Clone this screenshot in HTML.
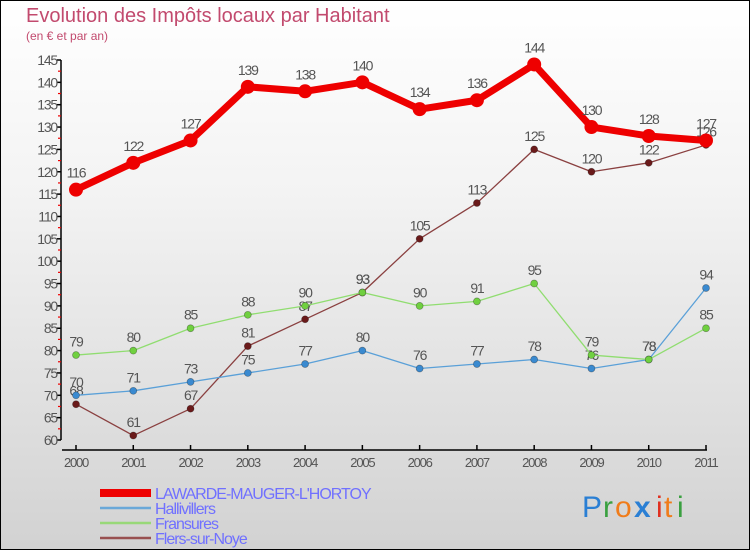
<!DOCTYPE html>
<html><head><meta charset="utf-8">
<style>
html,body{margin:0;padding:0;}
body{width:750px;height:550px;overflow:hidden;font-family:"Liberation Sans",sans-serif;}
#frame{position:absolute;left:0;top:0;width:748px;height:548px;border:1px solid #000;background:linear-gradient(#ffffff 0%,#f3f3f3 35%,#d2d2d2 100%);}
</style></head>
<body>
<div id="frame">
<svg id="chart" width="750" height="550" style="position:absolute;left:-1px;top:-1px">
<text x="26" y="22" font-size="20" fill="#c24a6e">Evolution des Impôts locaux par Habitant</text>
<text x="26" y="40" font-size="12" fill="#c24a6e">(en € et par an)</text>
<g id="axes"></g>
<g id="series"></g>
<g id="legend"></g>
<g font-size="30" font-family="Liberation Sans, sans-serif">
<text x="582" y="517" fill="#2a7fd4">P</text><text x="603" y="517" fill="#3aa040">r</text><text x="615" y="517" fill="#f07c1a">o</text><text x="634" y="517" fill="#2a7fd4" font-weight="bold">x</text><text x="656" y="517" fill="#e03020">i</text><text x="664" y="517" fill="#f07c1a">t</text><text x="677" y="517" fill="#3aa040">i</text>
</g>
</svg>
</div>
<script>
const years = [2000,2001,2002,2003,2004,2005,2006,2007,2008,2009,2010,2011];
const yTicks = [60,65,70,75,80,85,90,95,100,105,110,115,120,125,130,135,140,145];
const lawarde = [116,122,127,139,138,140,134,136,144,130,128,127];
const hallivillers = [70,71,73,75,77,80,76,77,78,76,78,94];
const fransures = [79,80,85,88,90,93,90,91,95,79,78,85];
const flers = [68,61,67,81,87,93,105,113,125,120,122,126];
const seriesNames = ["LAWARDE-MAUGER-L'HORTOY","Hallivillers","Fransures","Flers-sur-Noye"];

const NS="http://www.w3.org/2000/svg";
const x0=76, x1=706, yMin=60, yMax=145, py0=440, py1=60;
function xs(i){return x0+(x1-x0)*i/(years.length-1);}
function ys(v){return py0-(v-yMin)*(py0-py1)/(yMax-yMin);}
function mk(tag,attrs,parent){const e=document.createElementNS(NS,tag);for(const k in attrs)e.setAttribute(k,attrs[k]);parent.appendChild(e);return e;}

const ax=document.getElementById('axes');
let l=mk('line',{x1:61,y1:ys(145),x2:61,y2:ys(60),stroke:'#000','stroke-width':1.5},ax);


yTicks.forEach((v,i)=>{
  const t=mk('line',{x1:57,y1:ys(v),x2:61,y2:ys(v),stroke:'#000','stroke-width':1.5},ax);
  
  
  const lb=mk('text',{x:57,y:ys(v)+5,'font-size':14,fill:'#555','text-anchor':'end','letter-spacing':'-1.2'},ax);
  lb.textContent=v;
  
  
  if(i<yTicks.length-1){
    const m=mk('line',{x1:58,y1:ys(v+2.5),x2:61,y2:ys(v+2.5),stroke:'#e00','stroke-width':1.2},ax);
    
    
  }
});
l=mk('line',{x1:62,y1:450,x2:xs(years.length-1)+1,y2:450,stroke:'#000','stroke-width':1.5},ax);


years.forEach((y,i)=>{
  const t=mk('line',{x1:xs(i),y1:445,x2:xs(i),y2:450,stroke:'#000','stroke-width':1.5},ax);
  
  
  const lb=mk('text',{x:xs(i),y:467,'font-size':13,fill:'#555','text-anchor':'middle','letter-spacing':'-1.2'},ax);
  lb.textContent=y;
  
  
});

const sg=document.getElementById('series');
function drawSeries(vals,color,dot,w,r,name){
  const g=mk('g',{},sg);
  
  
  mk('polyline',{points:vals.map((v,i)=>xs(i)+','+ys(v)).join(' '),fill:'none',stroke:color,'stroke-width':w,'stroke-linejoin':'round'},g);
  vals.forEach((v,i)=>{
    const c=mk('circle',{cx:xs(i),cy:ys(v),r:r,fill:dot,stroke:w>3?'none':'rgba(0,0,0,0.35)','stroke-width':0.7},g);
    
    
    const t=mk('text',{x:xs(i),y:ys(v)-r-5,'font-size':14,fill:'#555','text-anchor':'middle','letter-spacing':'-1.2'},g);
    t.textContent=v;
    
    
  });
}
drawSeries(flers,'#8a4040','#6a1a1a',1.3,3.5,'series-flers-sur-noye');
drawSeries(hallivillers,'#5aa0d8','#3a8ad0',1.3,3.5,'series-hallivillers');
drawSeries(fransures,'#90dd70','#70d040',1.3,3.5,'series-fransures');
drawSeries(lawarde,'#ee0000','#ee0000',7,7,'series-lawarde');

const lg=document.getElementById('legend');
const lcol=['#ee0000','#6aa8d8','#98d878','#985050'];
const lw=[8,2.5,2.5,2.5];
seriesNames.forEach((n,i)=>{
  const y=493+i*15;
  const s=mk('line',{x1:100,y1:y,x2:151,y2:y,stroke:lcol[i],'stroke-width':lw[i]},lg);
  
  
  const t=mk('text',{x:155,y:y+6,'font-size':16,fill:'#7070ff','letter-spacing':'-1'},lg);
  t.textContent=n;
  
  
});
</script>
</body></html>
